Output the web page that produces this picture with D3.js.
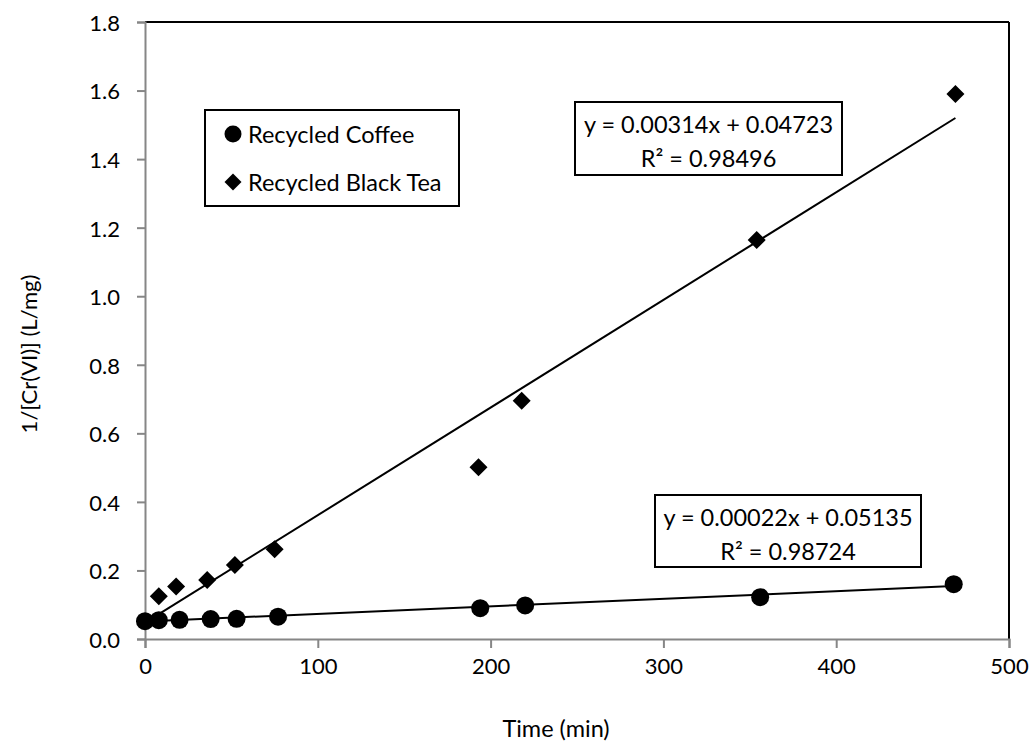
<!DOCTYPE html>
<html><head>
<meta charset="utf-8">
<title>Cr(VI) second-order kinetics</title>
<script src="https://d3js.org/d3.v7.min.js"></script>
<style>
  body { margin: 0; background: #fff; }
  svg text { font-family: Lato, "Open Sans", sans-serif; fill: #000; }
</style>
</head>
<body>
<svg id="chart" width="1031" height="745"></svg>
<script>
// data
const coffeeTime = [0, 8, 20, 38, 53, 77, 194, 220, 356, 468];
const coffeeInv  = [0.052, 0.055, 0.056, 0.058, 0.059, 0.065, 0.090, 0.098, 0.122, 0.160];
const teaTime = [8, 18, 36, 52, 75, 193, 218, 354, 469];
const teaInv  = [0.125, 0.153, 0.172, 0.216, 0.262, 0.501, 0.695, 1.164, 1.590];

const xTicks = [0, 100, 200, 300, 400, 500];
const yTicks = [0, 0.2, 0.4, 0.6, 0.8, 1.0, 1.2, 1.4, 1.6, 1.8];

// trendline fits (as printed on the chart)
const coffeeFit = { slope: 0.00022, intercept: 0.05135, r2: "0.98724" };
const teaFit    = { slope: 0.00314, intercept: 0.04723, r2: "0.98496" };

const svg = d3.select("#chart");
const margin = { top: 22, right: 22, bottom: 106, left: 145 };
const plotW = 1031 - margin.left - margin.right;
const plotH = 745 - margin.top - margin.bottom;
const labelSize = "23.5px";

const x = d3.scaleLinear().domain([0, 500]).range([0, plotW]);
const y = d3.scaleLinear().domain([0, 1.8]).range([plotH, 0]);

const plot = svg.append("g")
    .attr("transform", "translate(" + margin.left + "," + margin.top + ")");

// black frame on top / right
plot.append("line").attr("x1", 0).attr("x2", plotW).attr("y1", 0).attr("y2", 0)
    .attr("stroke", "#000").attr("stroke-width", 2);
plot.append("line").attr("x1", plotW).attr("x2", plotW).attr("y1", 0).attr("y2", plotH)
    .attr("stroke", "#000").attr("stroke-width", 2);

// axes
const xAxis = plot.append("g")
    .attr("transform", "translate(0," + plotH + ")")
    .call(d3.axisBottom(x).tickValues(xTicks).tickSize(9).tickPadding(10).tickFormat(d3.format("d")));
const yAxis = plot.append("g")
    .call(d3.axisLeft(y).tickValues(yTicks).tickSize(8).tickPadding(17).tickFormat(d3.format(".1f")));

[xAxis, yAxis].forEach(function(ax) {
  ax.select(".domain").attr("stroke", "#868686").attr("stroke-width", 2);
  ax.selectAll(".tick line").attr("stroke", "#868686").attr("stroke-width", 2);
  ax.selectAll(".tick text").style("font-size", "22px")
    .style("font-family", "Lato, 'Open Sans', sans-serif").attr("fill", "#000");
});
yAxis.selectAll(".tick text").attr("dy", "0.38em");

// axis titles
svg.append("text")
    .attr("x", 556).attr("y", 728)
    .attr("text-anchor", "middle").attr("dominant-baseline", "central")
    .style("font-size", labelSize)
    .text("Time (min)");
svg.append("text")
    .attr("transform", "translate(28,354) rotate(-90)")
    .attr("text-anchor", "middle").attr("dominant-baseline", "central")
    .style("font-size", "22px")
    .text("1/[Cr(VI)] (L/mg)");

// trendlines
function fitLine(fit, xs) {
  const ext = d3.extent(xs);
  plot.append("line")
      .attr("x1", x(ext[0])).attr("y1", y(fit.slope * ext[0] + fit.intercept))
      .attr("x2", x(ext[1])).attr("y2", y(fit.slope * ext[1] + fit.intercept))
      .attr("stroke", "#000").attr("stroke-width", 2);
}
fitLine(coffeeFit, coffeeTime);
fitLine(teaFit, teaTime);

// markers
const coffee = coffeeTime.map((t, i) => ({ t: t, v: coffeeInv[i] }));
const tea = teaTime.map((t, i) => ({ t: t, v: teaInv[i] }));

const diamond = d3.symbol().type(d3.symbolSquare).size(162);

plot.selectAll("path.tea").data(tea)
  .join("path")
    .attr("class", "tea")
    .attr("d", diamond)
    .attr("transform", d => "translate(" + x(d.t) + "," + y(d.v) + ") rotate(45)")
    .attr("fill", "#000");

plot.selectAll("circle.coffee").data(coffee)
  .join("circle")
    .attr("class", "coffee")
    .attr("cx", d => x(d.t))
    .attr("cy", d => y(d.v))
    .attr("r", 9)
    .attr("fill", "#000");

// legend
const legend = svg.append("g");
legend.append("rect")
    .attr("x", 205).attr("y", 110).attr("width", 254).attr("height", 96)
    .attr("fill", "#fff").attr("stroke", "#000").attr("stroke-width", 2);
legend.append("circle").attr("cx", 233).attr("cy", 134).attr("r", 8.5).attr("fill", "#000");
legend.append("path")
    .attr("d", d3.symbol().type(d3.symbolSquare).size(144))
    .attr("transform", "translate(233,182) rotate(45)")
    .attr("fill", "#000");
legend.append("text").attr("x", 248).attr("y", 134)
    .attr("dominant-baseline", "central").style("font-size", labelSize)
    .text("Recycled Coffee");
legend.append("text").attr("x", 248).attr("y", 182)
    .attr("dominant-baseline", "central").style("font-size", labelSize)
    .text("Recycled Black Tea");

// equation labels
function eqBox(fit, bx, by, bw, bh) {
  const g = svg.append("g");
  g.append("rect").attr("x", bx).attr("y", by).attr("width", bw).attr("height", bh)
      .attr("fill", "#fff").attr("stroke", "#000").attr("stroke-width", 2);
  g.append("text").attr("x", bx + bw / 2).attr("y", by + 22)
      .attr("text-anchor", "middle").attr("dominant-baseline", "central")
      .style("font-size", labelSize)
      .text("y = " + fit.slope.toFixed(5) + "x + " + fit.intercept.toFixed(5));
  g.append("text").attr("x", bx + bw / 2).attr("y", by + 56)
      .attr("text-anchor", "middle").attr("dominant-baseline", "central")
      .style("font-size", labelSize)
      .text("R\u00B2 = " + fit.r2);
}
eqBox(teaFit, 575, 102, 267, 73);
eqBox(coffeeFit, 655, 495, 266, 72);
</script>
</body>
</html>
